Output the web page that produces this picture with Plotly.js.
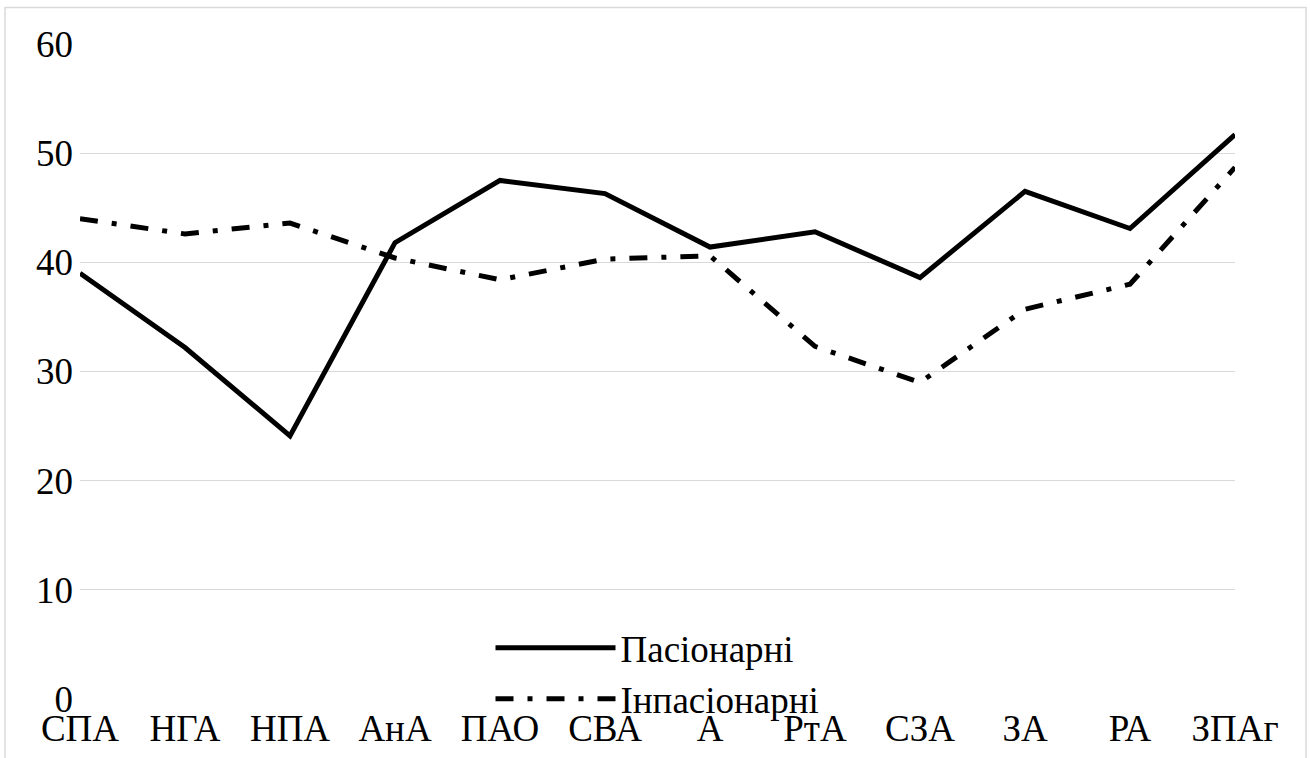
<!DOCTYPE html>
<html>
<head>
<meta charset="utf-8">
<script src="https://cdn.plot.ly/plotly-3.0.1.min.js"></script>
<style>
  html, body { margin: 0; padding: 0; background: #ffffff; }
  #chart { width: 1310px; height: 758px; }
</style>
</head>
<body>
<div id="chart"></div>
<script>
const categories = ['СПА','НГА','НПА','АнА','ПАО','СВА','А','РтА','СЗА','ЗА','РА','ЗПАг'];
const pasionarni = [39.0, 32.2, 24.1, 41.8, 47.5, 46.3, 41.4, 42.8, 38.6, 46.5, 43.1, 51.7];
const inpasionarni = [44.0, 42.6, 43.6, 40.4, 38.4, 40.3, 40.6, 32.3, 29.0, 35.7, 38.0, 48.7];
const seriesNames = ['Пасіонарні', 'Інпасіонарні'];
const yTicks = [0, 10, 20, 30, 40, 50, 60];

const fontFamily = '"Liberation Serif", "Times New Roman", serif';

const traces = [
  {
    x: categories, y: pasionarni, name: seriesNames[0],
    type: 'scatter', mode: 'lines',
    line: { color: '#000000', width: 5, dash: 'solid' }
  },
  {
    x: categories, y: inpasionarni, name: seriesNames[1],
    type: 'scatter', mode: 'lines',
    line: { color: '#000000', width: 5, dash: '18px,14px,5px,14px' }
  }
];

const layout = {
  width: 1310, height: 758,
  paper_bgcolor: '#ffffff', plot_bgcolor: '#ffffff',
  margin: { l: 80, r: 75, t: 44, b: 59 },
  font: { family: fontFamily, size: 37, color: '#000000' },
  showlegend: true,
  legend: {
    x: 0.5, xanchor: 'center', y: 0.125, yanchor: 'top',
    bgcolor: 'rgba(0,0,0,0)', borderwidth: 0,
    font: { family: fontFamily, size: 37, color: '#000000' },
    itemwidth: 120, tracegroupgap: 0
  },
  xaxis: {
    type: 'category', range: [0, 11],
    showgrid: false, zeroline: false, showline: false,
    ticks: '', tickfont: { family: fontFamily, size: 37, color: '#000000' },
    ticklabelstandoff: 4, fixedrange: true
  },
  yaxis: {
    range: [0, 60], tickvals: yTicks, ticktext: yTicks.map(String),
    showgrid: true, gridcolor: '#d9d9d9', gridwidth: 1.3,
    zeroline: false, showline: false, ticks: '',
    tickfont: { family: fontFamily, size: 37, color: '#000000' },
    ticklabelstandoff: 6, fixedrange: true
  },
  shapes: [
    {
      type: 'rect', xref: 'paper', yref: 'paper',
      x0: -0.0649, x1: 1.0615, y0: -0.1, y1: 1.0557,
      line: { color: '#d9d9d9', width: 1.5 }, fillcolor: 'rgba(0,0,0,0)',
      layer: 'below'
    }
  ]
};

Plotly.newPlot('chart', traces, layout, { staticPlot: true, displayModeBar: false });
</script>
</body>
</html>
